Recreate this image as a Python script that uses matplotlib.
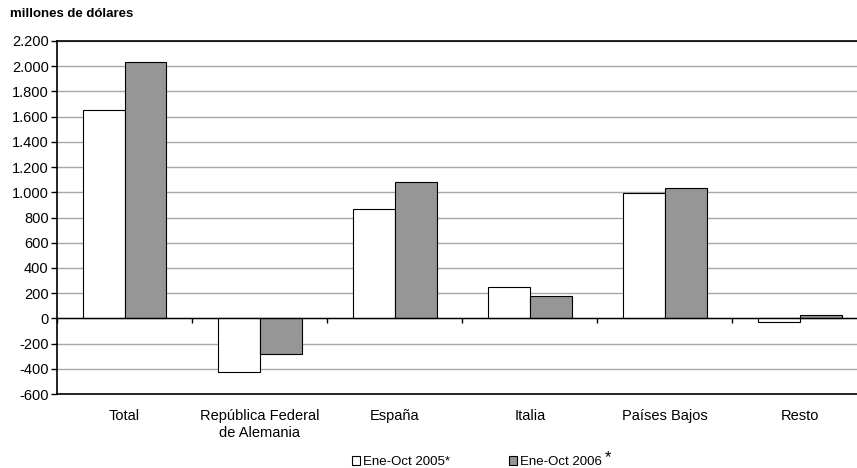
import numpy as np
from matplotlib import pyplot as plt
from matplotlib.patches import Patch

plt.rcParams['font.family'] = ['Liberation Sans', 'DejaVu Sans']

# Datos (millones de dólares)
categorias = ['Total', 'República Federal\nde Alemania', 'España', 'Italia',
              'Países Bajos', 'Resto']
ene_oct_2005 = [1655, -425, 870, 248, 998, -30]
ene_oct_2006 = [2032, -282, 1078, 177, 1032, 30]
series_labels = ['Ene-Oct 2005*', 'Ene-Oct 2006']

y_ticks = np.arange(-600, 2201, 200)

def fmt_miles(v):
    # separador de miles con punto
    return f'{int(v):,}'.replace(',', '.')

fig = plt.figure(figsize=(8.57, 4.68), dpi=100)
ax = fig.add_axes([57/857, 1 - 394/468, (867.6 - 57)/857, (394 - 41)/468])

x = np.arange(len(categorias))
w = 0.31
ax.bar(x - w/2, ene_oct_2005, w, color='white', edgecolor='black', linewidth=0.8, zorder=3)
ax.bar(x + w/2, ene_oct_2006, w, color='#969696', edgecolor='black', linewidth=0.8, zorder=3)

ax.set_xlim(-0.5, len(categorias) - 0.5)
ax.set_ylim(-600, 2200)
ax.set_yticks(y_ticks)
ax.set_yticklabels([fmt_miles(v) for v in y_ticks], fontsize=10.5)
ax.yaxis.grid(True, color='#a8a8a8', linewidth=1.0, zorder=0)
ax.set_axisbelow(True)

# Línea del cero con marcas entre categorías
ax.axhline(0, color='black', linewidth=1.0, zorder=4)
bordes = np.arange(len(categorias) + 1) - 0.5
ax.vlines(bordes, -35, 0, color='black', linewidth=1.0, zorder=4, clip_on=False)

ax.set_xticks(x)
ax.set_xticklabels(categorias, fontsize=10.5, linespacing=1.25)
ax.tick_params(axis='x', length=0, pad=11)
ax.tick_params(axis='y', length=4, width=1, direction='out', pad=2)

for s in ax.spines.values():
    s.set_color('black')
    s.set_linewidth(1.2)

fig.text(10/857, 1 - 14/468, 'millones de dólares', fontsize=9.5, fontweight='bold',
         va='center', ha='left')

handles = [Patch(facecolor='white', edgecolor='black', linewidth=0.8),
           Patch(facecolor='#969696', edgecolor='black', linewidth=0.8)]
leg = fig.legend(handles, series_labels, loc='center', bbox_to_anchor=(477/857, 1 - 462/468),
                 ncol=2, frameon=False, fontsize=9.5, handlelength=0.6, handleheight=0.6,
                 handletextpad=0.2, columnspacing=4.5, borderpad=0, borderaxespad=0)
fig.text(605/857, 1 - 458/468, '*', fontsize=12, va='center', ha='left')

fig.savefig('out.png', dpi=100)
